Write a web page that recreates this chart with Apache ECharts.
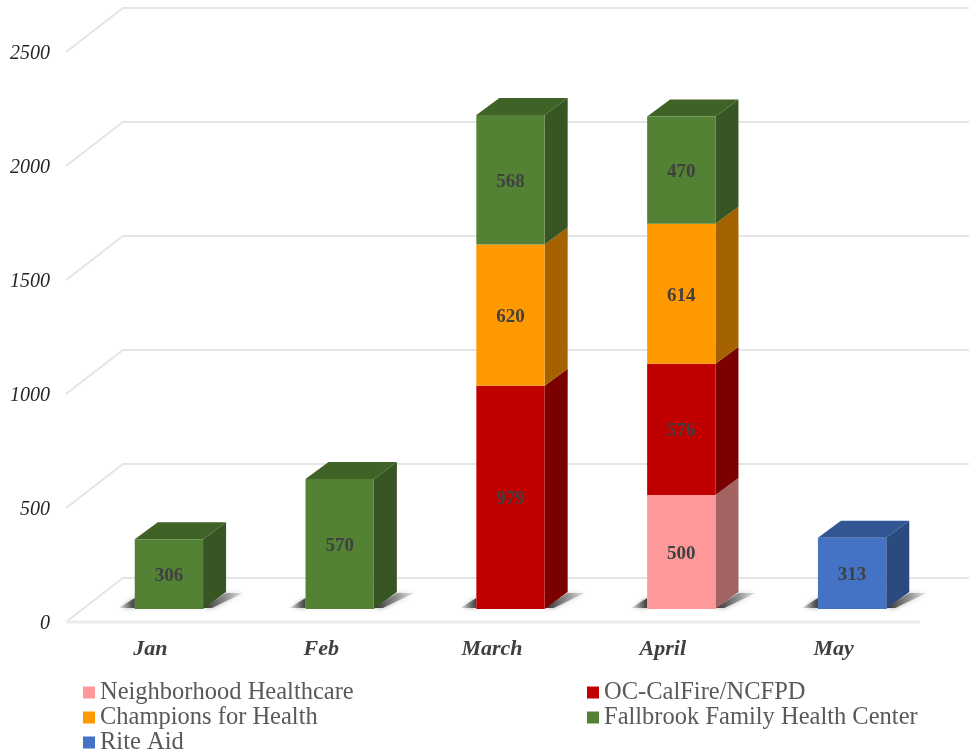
<!DOCTYPE html>
<html>
<head>
<meta charset="utf-8">
<style>html,body{margin:0;padding:0;background:#fff}#c{width:969px;height:752px}</style>
<script src="https://cdn.jsdelivr.net/npm/echarts@6/dist/echarts.min.js"></script>
</head>
<body>
<div id="c"></div>
<script>
const categories = ['Jan', 'Feb', 'March', 'April', 'May'];
const yTicks = [0, 500, 1000, 1500, 2000, 2500];
const neighborhood = [null, null, null, 500, null];
const ocCalFire = [null, null, 979, 576, null];
const champions = [null, null, 620, 614, null];
const fallbrook = [306, 570, 568, 470, null];
const riteAid = [null, null, null, null, 313];

const stackOrder = [
  { name: 'Neighborhood Healthcare', values: neighborhood, front: '#ff9999', side: '#a36363', top: '#b87070' },
  { name: 'OC-CalFire/NCFPD', values: ocCalFire, front: '#c00000', side: '#7b0000', top: '#900000' },
  { name: 'Champions for Health', values: champions, front: '#ff9900', side: '#a56300', top: '#bf7300' },
  { name: 'Fallbrook Family Health Center', values: fallbrook, front: '#548235', side: '#375623', top: '#3f6227' },
  { name: 'Rite Aid', values: riteAid, front: '#4472c4', side: '#2b4a80', top: '#325594' }
];
const DX = 23, DY = 17;
const serif = '"Liberation Serif", "Times New Roman", serif';

function barSeries(s, idx) {
  const data = [];
  categories.forEach((c, i) => {
    if (s.values[i] == null) return;
    let base = 0;
    for (let k = 0; k < idx; k++) base += stackOrder[k].values[i] || 0;
    let above = 0;
    for (let k = idx + 1; k < stackOrder.length; k++) above += stackOrder[k].values[i] || 0;
    data.push([i, base, base + s.values[i], above === 0 ? 1 : 0]);
  });
  return {
    type: 'custom',
    name: s.name,
    coordinateSystem: 'cartesian2d',
    xAxisIndex: 0,
    yAxisIndex: 0,
    itemStyle: { color: s.front },
    encode: { x: 0, y: [1, 2] },
    clip: false,
    z: 3,
    data,
    renderItem(params, api) {
      const p0 = api.coord([api.value(0), api.value(1)]);
      const p1 = api.coord([api.value(0), api.value(2)]);
      const w = api.size([1, 0])[0] * 0.4;
      const l = p0[0] - w / 2 - 0.5, r = l + w, yb = p0[1], yt = p1[1];
      const children = [];
      if (api.value(1) === 0) {
        const grad = (a, b) => ({ type: 'linear', x: 0, y: 0, x2: 1, y2: 0, colorStops: [{ offset: 0, color: a }, { offset: 1, color: b }] });
        children.push({ type: 'polygon', shape: { points: [[l - 16, yb - 1], [l, yb - 11], [l, yb - 1]] },
          style: { fill: grad('rgba(90,90,90,0.1)', '#3c3c3c'), shadowBlur: 5, shadowColor: 'rgba(110,110,110,0.7)' } });
        children.push({ type: 'polygon', shape: { points: [[r, yb - 1], [r + DX, yb - 16], [r + 40, yb - 16], [r + 9, yb - 1]] },
          style: { fill: grad('#2a2a2a', 'rgba(130,130,130,0.2)'), shadowBlur: 5, shadowColor: 'rgba(110,110,110,0.7)' } });
      }
      children.push({ type: 'polygon', shape: { points: [[r, yb], [r + DX, yb - DY], [r + DX, yt - DY], [r, yt]] }, style: { fill: s.side } });
      if (api.value(3) === 1) {
        children.push({ type: 'polygon', shape: { points: [[l, yt], [l + DX, yt - DY], [r + DX, yt - DY], [r, yt]] }, style: { fill: s.top } });
      }
      children.push({ type: 'rect', shape: { x: l, y: yt, width: w, height: yb - yt }, style: { fill: s.front } });
      children.push({
        type: 'text',
        style: {
          x: p0[0] - 0.5, y: (yb + yt) / 2 + 2,
          text: String(api.value(2) - api.value(1)),
          fill: '#404040', font: 'bold 19px ' + serif, align: 'center', verticalAlign: 'middle'
        }
      });
      return { type: 'group', children };
    }
  };
}

const wallSeries = {
  type: 'custom',
  name: 'walls',
  coordinateSystem: 'cartesian2d',
  xAxisIndex: 0,
  yAxisIndex: 0,
  encode: { y: 0 },
  clip: false,
  z: 1,
  silent: true,
  data: yTicks.map(v => [v]),
  renderItem(params, api) {
    const v = api.value(0);
    const y = api.coord([0, v])[1];
    const x0 = params.coordSys.x, x1 = x0 + params.coordSys.width;
    const line = { stroke: '#e5e5e5', lineWidth: 2, fill: null };
    const children = [
      { type: 'polyline', shape: { points: [[x0 - 18, y + 13], [x0 + 39, y - 31], [969, y - 31]] }, style: line }
    ];
    if (v === 0) {
      children.push({ type: 'line', shape: { x1: x0 - 18, y1: y + 13, x2: x1 - 18, y2: y + 13 }, style: { stroke: '#ebebeb', lineWidth: 3 } });
    }
    return { type: 'group', children };
  }
};

const legendText = { fontFamily: serif, fontSize: 24.5, color: '#595959', lineHeight: 25 };
const legendBase = { top: 680, height: 76, padding: 0, orient: 'vertical', itemGap: 0, itemWidth: 12, itemHeight: 12, icon: 'rect', textStyle: legendText, selectedMode: false };
const chart = echarts.init(document.getElementById('c'), null, { renderer: 'canvas' });
chart.setOption({
  animation: false,
  backgroundColor: '#fff',
  grid: [
    { left: 84, width: 854, top: 39, height: 570 },
    { left: 65, width: 854, top: 53.5, height: 570 }
  ],
  xAxis: [
    { type: 'category', gridIndex: 0, data: categories, axisLine: { show: false }, axisTick: { show: false }, axisLabel: { show: false } },
    { type: 'category', gridIndex: 1, data: categories, axisLine: { show: false }, axisTick: { show: false },
      axisLabel: { margin: 15, fontFamily: serif, fontSize: 22, fontStyle: 'italic', fontWeight: 'bold', color: '#404040' } }
  ],
  yAxis: [
    { type: 'value', gridIndex: 0, min: 0, max: 2500, interval: 500, axisLine: { show: false }, axisTick: { show: false }, splitLine: { show: false }, axisLabel: { show: false } },
    { type: 'value', gridIndex: 1, min: 0, max: 2500, interval: 500, axisLine: { show: false }, axisTick: { show: false }, splitLine: { show: false },
      axisLabel: { margin: 15, formatter: v => String(v), fontFamily: serif, fontSize: 20, fontStyle: 'italic', color: '#262626' } }
  ],
  legend: [
    Object.assign({ left: 83, data: ['Neighborhood Healthcare', 'Champions for Health', 'Rite Aid'] }, legendBase),
    Object.assign({ left: 587, data: ['OC-CalFire/NCFPD', 'Fallbrook Family Health Center'] }, legendBase)
  ],
  series: [wallSeries].concat(stackOrder.map(barSeries))
});
</script>
</body>
</html>
